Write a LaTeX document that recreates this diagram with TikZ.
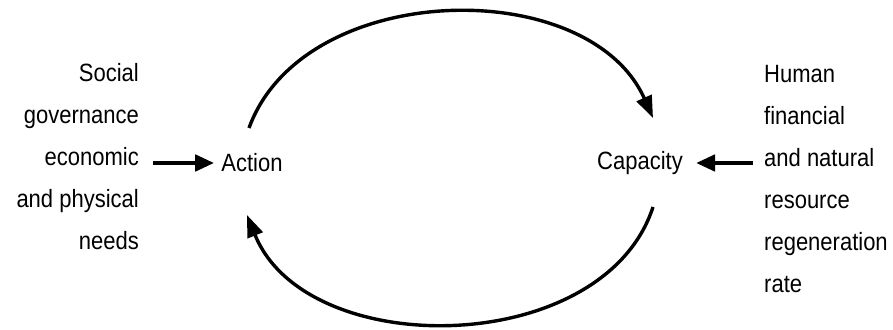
\documentclass[tikz,border=0pt]{standalone}
\usepackage{fontspec}
\setmainfont{Liberation Sans}[FakeStretch=0.88]
\usetikzlibrary{arrows.meta,positioning,calc}

\begin{document}
\begin{tikzpicture}[x=1pt,y=1pt,font=\fontsize{25}{42}\selectfont,
  txt/.style={inner sep=0pt},
  flow/.style={line width=4.5pt,-{Triangle[length=19pt,width=16pt]}},
  loop/.style={line width=3.4pt,-{Triangle[length=22pt,width=16pt]}}]
  \useasboundingbox (0,0) rectangle (893,329);
  \node[txt] (action) at (252,166) {Action};
  \node[txt] (capacity) at (640,166) {Capacity};
  \node[txt,align=right,anchor=east] (needs) at (139,172) {Social\\governance\\economic\\and physical\\needs};
  \node[txt,align=left,anchor=west] (resources) at (764,150) {Human\\financial\\and natural\\resource\\regeneration\\rate};
  \draw[flow,shorten <=14pt,shorten >=7pt] (needs.east |- action) -- (action);
  \draw[flow,shorten <=11pt,shorten >=13pt] (resources.west |- capacity) -- (capacity);
  \draw[loop] ($(action)+(-3,35)$) to[out=70,in=114] ($(capacity)+(13,45)$);
  \draw[loop] ($(capacity)+(13,-44)$) to[out=-108,in=-68] ($(action)+(-5,-52)$);
\end{tikzpicture}
\end{document}
